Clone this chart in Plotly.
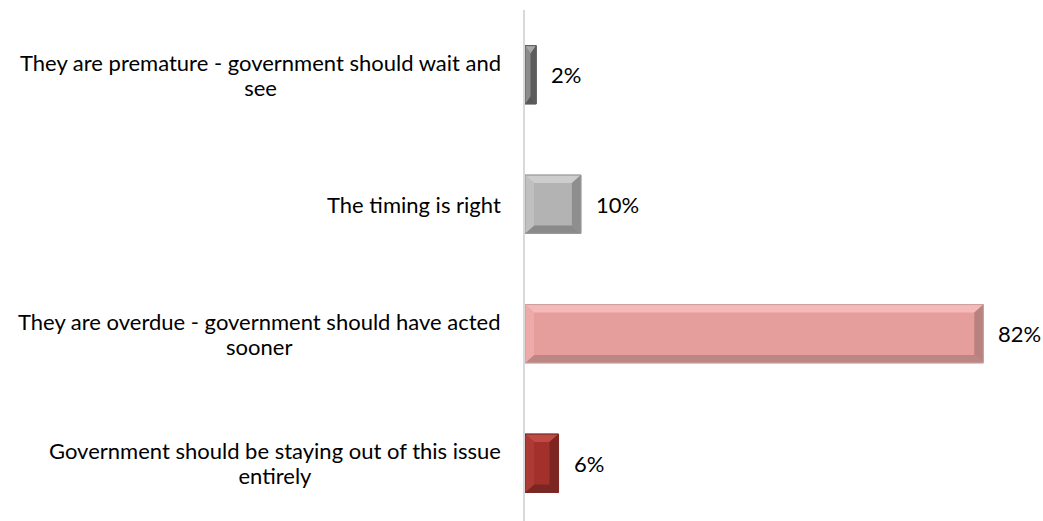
import plotly.graph_objects as go

# Survey responses and their shares (%)
categories = [
    "They are premature - government should wait and<br>see",
    "The timing is right",
    "They are overdue - government should have acted<br>sooner",
    "Government should be staying out of this issue<br>entirely",
]
values = [2, 10, 82, 6]
value_labels = ["2%", "10%", "82%", "6%"]

# Per-bar palette: face, top, left, right, bottom facets and outline
palettes = [
    dict(face="#7b7b7b", top="#a8a8a8", left="#8c8c8c", right="#5c5c5c", bottom="#585858", line="#5e5e5e"),
    dict(face="#b3b3b3", top="#cdcdcd", left="#c0c0c0", right="#8e8e8e", bottom="#8a8a8a", line="#999999"),
    dict(face="#e59e9c", top="#f5bab8", left="#eeaaa8", right="#b88280", bottom="#bb8684", line="#c9a09e"),
    dict(face="#a3302b", top="#bf4943", left="#ad3a35", right="#7c2521", bottom="#7a2622", line="#7d2a26"),
]

# Layout geometry
W, H = 1043, 521
M_L, M_R, M_T, M_B = 525, 15, 10, 0
X_RANGE = [0, 90]
Y_RANGE = [3.446, -0.5]
BAR_W = 0.45
plot_w = W - M_L - M_R
plot_h = H - M_T - M_B
px_x = plot_w / (X_RANGE[1] - X_RANGE[0])
px_y = plot_h / abs(Y_RANGE[0] - Y_RANGE[1])

positions = list(range(len(categories)))

fig = go.Figure()
fig.add_trace(go.Bar(
    x=values,
    y=positions,
    orientation="h",
    width=BAR_W,
    marker=dict(color=[p["face"] for p in palettes],
                line=dict(color=[p["line"] for p in palettes], width=1)),
    hoverinfo="skip",
))

# Bevelled edges drawn as four trapezoid facets around each bar
shapes = []
for pos, v, pal in zip(positions, values, palettes):
    x0, x1 = 0, v
    yt, yb = pos - BAR_W / 2, pos + BAR_W / 2
    dx = min(9 / px_x, v / 2)
    dy = min(8 / px_y, BAR_W / 2)
    facets = [
        ("top", [(x0, yt), (x1, yt), (x1 - dx, yt + dy), (x0 + dx, yt + dy)]),
        ("bottom", [(x0, yb), (x1, yb), (x1 - dx, yb - dy), (x0 + dx, yb - dy)]),
        ("left", [(x0, yt), (x0 + dx, yt + dy), (x0 + dx, yb - dy), (x0, yb)]),
        ("right", [(x1, yt), (x1 - dx, yt + dy), (x1 - dx, yb - dy), (x1, yb)]),
    ]
    for name, pts in facets:
        path = "M " + " L ".join(f"{px},{py}" for px, py in pts) + " Z"
        shapes.append(dict(type="path", path=path, xref="x", yref="y",
                           fillcolor=pal[name], line=dict(width=0), layer="above"))
    shapes.append(dict(type="rect", xref="x", yref="y", x0=x0, x1=x1, y0=yt, y1=yb,
                       line=dict(color=pal["line"], width=1), fillcolor="rgba(0,0,0,0)",
                       layer="above"))

FAMILY = "Lato, Calibri, sans-serif"
TEXT_PX = 22
# Base size sets the spacing between wrapped lines; glyphs use TEXT_PX
LABEL_FONT = dict(family=FAMILY, size=19.5, color="#000000")
VALUE_FONT = dict(family=FAMILY, size=TEXT_PX, color="#000000")

annotations = []
for pos, cat in zip(positions, categories):
    lines = cat.split("<br>")
    text = "<br>".join(f'<span style="font-size:{TEXT_PX}px">{ln}</span>' for ln in lines)
    annotations.append(dict(x=0, y=pos, xref="x", yref="y", text=text, showarrow=False,
                            xanchor="right", yanchor="middle", align="center",
                            xshift=-22, font=LABEL_FONT))
for pos, v, lab in zip(positions, values, value_labels):
    annotations.append(dict(x=v, y=pos, xref="x", yref="y", text=lab, showarrow=False,
                            xanchor="left", yanchor="middle", xshift=13, font=VALUE_FONT))

fig.update_layout(
    width=W, height=H,
    margin=dict(l=M_L, r=M_R, t=M_T, b=M_B),
    paper_bgcolor="white", plot_bgcolor="white",
    showlegend=False,
    xaxis=dict(range=X_RANGE, visible=False, fixedrange=True),
    yaxis=dict(range=Y_RANGE, showticklabels=False, showgrid=False, zeroline=False,
               showline=True, linecolor="#d9d9d9", linewidth=2, ticks=""),
    shapes=shapes,
    annotations=annotations,
)

fig.write_html("out.html")
